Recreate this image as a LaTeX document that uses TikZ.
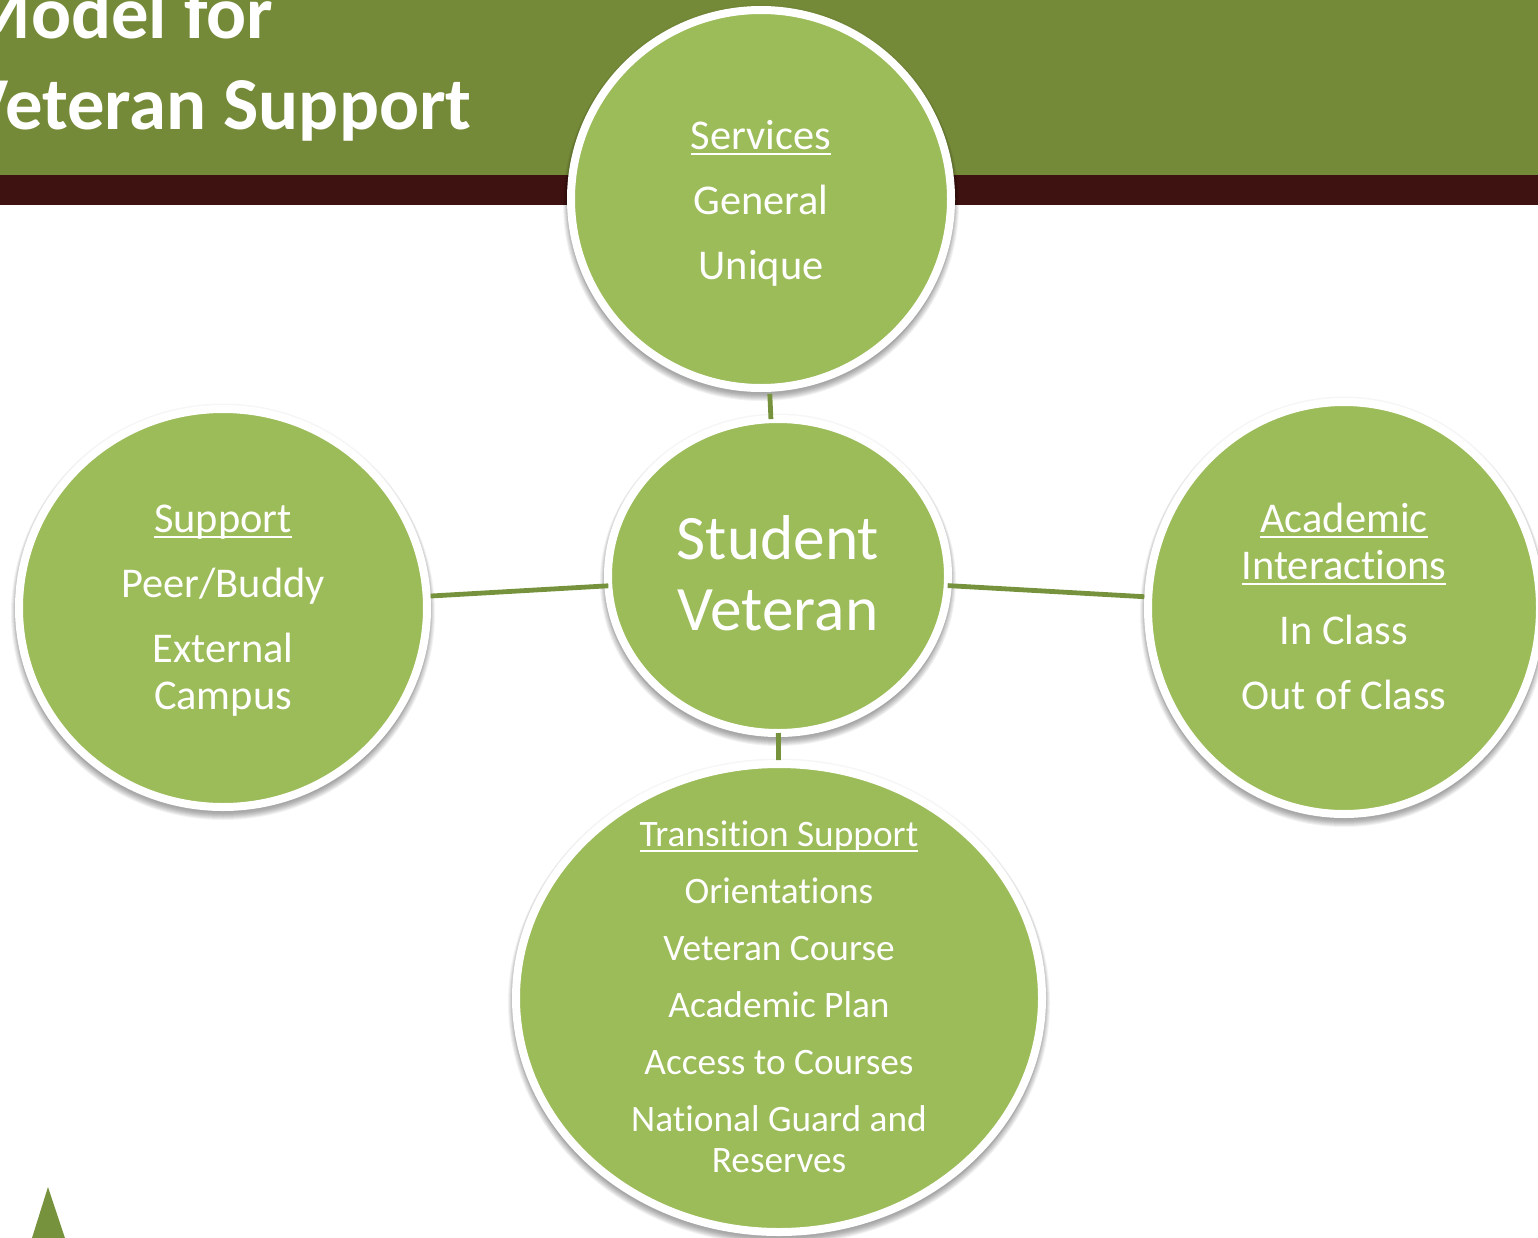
\documentclass[tikz,border=0pt]{standalone}
\usepackage{fontspec}
\setmainfont{Carlito}[Ligatures=NoCommon]
\usetikzlibrary{shapes.geometric}
\definecolor{headgreen}{HTML}{758A38}
\definecolor{darkband}{HTML}{3E1210}
\definecolor{discgreen}{HTML}{9CBB59}
\definecolor{linkgreen}{HTML}{76923C}
\newcommand{\ulinetxt}[1]{\leavevmode\setbox0\hbox{#1}\rlap{\rule[-0.14em]{\wd0}{0.05em}}\box0}
\newcommand{\softshadow}[4]{%
  \fill[black,opacity=.035] (#1,#2) ellipse ({#3+9.5} and {#4+9.5});
  \foreach \d in {4,3,...,-2}{
    \fill[black,opacity=.05] (#1,#2+5) ellipse ({#3+8+\d} and {#4+8+\d});
  }}
\tikzset{
  disc/.style 2 args={ellipse,fill=discgreen,draw=white,line width=6pt,inner sep=0pt,
    minimum width=#1*0.75pt+6pt,minimum height=#2*0.75pt+6pt},
  link/.style={draw=linkgreen,line width=3.6pt},
  midtext/.style={text=white,align=center,inner sep=0pt,font=\fontsize{31.8}{35.25}\selectfont},
  smalltext/.style={text=white,align=center,inner sep=0pt,font=\fontsize{28}{30.75}\selectfont},
  bigtext/.style={text=white,align=center,inner sep=0pt,font=\fontsize{47.5}{53.25}\selectfont},
  titletext/.style={text=white,inner sep=0pt,font=\fontsize{56}{60}\selectfont\bfseries},
}
\begin{document}
\begin{tikzpicture}[x=0.75pt,y=-0.75pt]
\useasboundingbox (0,0) rectangle (1538,1238);
\clip (0,0) rectangle (1538,1238);
\fill[white] (0,0) rectangle (1538,1238);
\fill[headgreen] (0,0) rectangle (1538,175);
\fill[darkband] (0,175) rectangle (1538,205);
\node[titletext,anchor=base east] (t1) at (273.5,39) {Model for};
\node[titletext,anchor=base east] (t2) at (472,129) {Veteran Support};
\fill[linkgreen] (48,1187) -- (32,1238) -- (65,1238) -- cycle;

\softshadow{761}{199}{186}{185}
\softshadow{778}{576}{166}{153}
\softshadow{223}{608}{200}{195}
\softshadow{1344}{608}{192}{202}
\softshadow{779}{998}{259}{230}

\node[disc={372}{370},outer sep=4.5pt] (services) at (761,199) {};
\node[disc={332}{306},outer sep=0pt] (student) at (778,576) {};
\node[disc={400}{390}] (support) at (223,608) {};
\node[disc={384}{404}] (academic) at (1344,608) {};
\node[disc={518}{460}] (transition) at (779,998) {};

\draw[link] (services) -- (student);
\draw[link] (support) -- (student);
\draw[link] (student) -- (academic);
\draw[link] (student) -- (transition);

\node[midtext] (servicesT) at (761,203) {\ulinetxt{Services}\\[13.5pt]General\\[13.5pt]Unique};
\node[bigtext] (studentT) at (778,573) {Student\\Veteran};
\node[midtext] (supportT) at (223,610.5) {\ulinetxt{Support}\\[13.5pt]Peer/Buddy\\[13.5pt]External\\Campus};
\node[midtext] (academicT) at (1344,606) {\ulinetxt{Academic}\\\ulinetxt{Interactions}\\[13.5pt]In Class\\[13.5pt]Out of Class};
\node[smalltext] (transitionT) at (779,997) {\ulinetxt{Transition Support}\\[12pt]Orientations\\[12pt]Veteran Course\\[12pt]Academic Plan\\[12pt]Access to Courses\\[12pt]National Guard and\\Reserves};
\end{tikzpicture}
\end{document}
